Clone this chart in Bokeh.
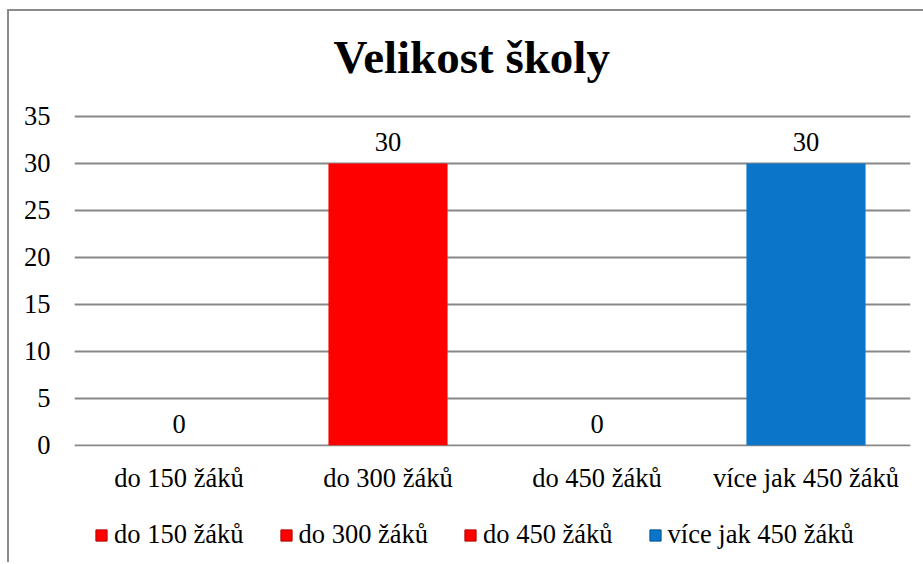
from bokeh.plotting import figure
from bokeh.layouts import column
from bokeh.models import (ColumnDataSource, LabelSet, Legend, LegendItem, FactorRange,
                          Range1d, SingleIntervalTicker)
from bokeh.embed import file_html
from bokeh.resources import INLINE

categories = ["do 150 žáků", "do 300 žáků", "do 450 žáků", "více jak 450 žáků"]
counts = [0, 30, 0, 30]
colors = ["#FF0000", "#FF0000", "#FF0000", "#0A75C9"]
edges = ["#B00000", "#B00000", "#B00000", "#00528F"]
title_text = "Velikost školy"

FONT = "Liberation Serif"
BORDER = "2px solid #8c8c8c"

src = ColumnDataSource(dict(cat=categories, val=counts, color=colors, edge=edges,
                            lab=[str(v) for v in counts]))
xr = FactorRange(*categories, range_padding=0)

# ---- title strip ----
p0 = figure(frame_width=834, frame_height=1, x_range=xr, y_range=Range1d(0, 1),
            output_backend="svg", toolbar_location=None,
            x_axis_type=None, y_axis_type=None,
            min_border_left=65, min_border_right=15, min_border_top=0, min_border_bottom=0)
p0.styles = {"margin-left": "7px", "margin-top": "9px", "border-left": BORDER, "border-top": BORDER}
p0.outline_line_color = None
p0.grid.grid_line_color = None
p0.title.text = title_text
p0.title.text_font = FONT
p0.title.text_font_size = "47px"
p0.title.text_font_style = "bold"
p0.title.align = "left"
p0.title.offset = 259
p0.title.text_color = "#000000"
p0.title.standoff = 34

# ---- main chart ----
p = figure(frame_width=834, frame_height=346, x_range=xr, y_range=Range1d(-0.12, 36.7),
           output_backend="svg", toolbar_location=None,
           min_border_left=65, min_border_right=15, min_border_top=0, min_border_bottom=57)
p.styles = {"margin-left": "7px", "border-left": BORDER}

r = p.vbar(x="cat", top="val", width=0.57, source=src, fill_color="color",
           line_color=None)

labels = LabelSet(x="cat", y="val", text="lab", source=src, text_align="center",
                  text_baseline="alphabetic", y_offset=12, text_font=FONT,
                  text_font_size="26.5px", text_color="#000000")
p.add_layout(labels)

p.outline_line_color = None
p.xgrid.grid_line_color = None
p.ygrid.grid_line_color = "#888888"
p.ygrid.grid_line_width = 2
p.yaxis.ticker = SingleIntervalTicker(interval=5)

for ax in (p.xaxis, p.yaxis):
    ax.axis_line_color = None
    ax.major_tick_line_color = None
    ax.minor_tick_line_color = None
    ax.major_tick_out = 0
    ax.major_tick_in = 0
    ax.minor_tick_out = 0
    ax.major_label_text_font = FONT
    ax.major_label_text_font_size = "26.5px"
    ax.major_label_text_color = "#000000"
p.yaxis.major_label_standoff = 24
p.xaxis.major_label_standoff = 16

# ---- legend strip ----
p2 = figure(frame_width=834, frame_height=59, x_range=xr, y_range=Range1d(1000, 1001),
            output_backend="svg", toolbar_location=None,
            x_axis_type=None, y_axis_type=None,
            min_border_left=65, min_border_right=15, min_border_top=0, min_border_bottom=0)
p2.styles = {"margin-left": "7px", "border-left": BORDER}
p2.outline_line_color = None
p2.grid.grid_line_color = None
r2 = p2.vbar(x="cat", top="val", width=0.57, source=src, fill_color="color",
             line_color="edge", line_width=1)

legend = Legend(items=[LegendItem(label=c, renderers=[r2], index=i) for i, c in enumerate(categories)],
                orientation="horizontal", location=(20, 12),
                label_text_font=FONT, label_text_font_size="26.5px", label_text_color="#000000",
                glyph_width=14, glyph_height=14, label_standoff=6, spacing=35,
                border_line_color=None, background_fill_alpha=0, margin=0, padding=4)
p2.add_layout(legend)

layout = column(p0, p, p2, spacing=0)
open("out.html", "w").write(file_html(layout, INLINE))
